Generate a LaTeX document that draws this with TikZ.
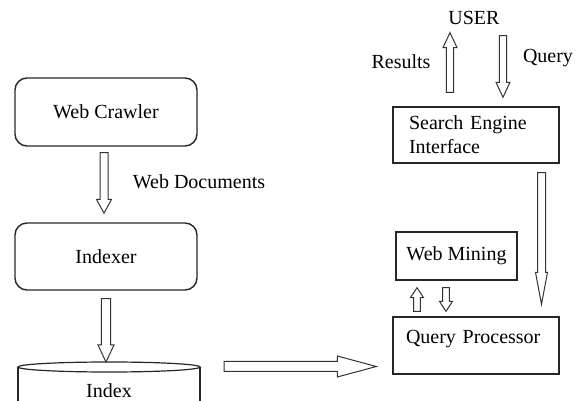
\documentclass[tikz,border=0pt]{standalone}
\usepackage{fontspec}
\setmainfont{Liberation Serif}
\usetikzlibrary{calc}
\tikzset{roundbox/.style={draw=black!85,rounded corners=6pt,line width=0.7pt,minimum width=91pt,minimum height=34pt}}
\tikzset{squarebox/.style={draw=black!85,line width=0.7pt,inner sep=0pt}}
\tikzset{arrowline/.style={draw=black!80,line width=0.5pt,line join=miter}}
% hollow block arrow: shaft half width, head half width, head length (in pt), from, to
\newcommand\blockarrow[5]{%
  \draw[arrowline] let \p1=#4, \p2=#5, \n1={atan2(\y2-\y1,\x2-\x1)}, \n2={veclen(\x2-\x1,\y2-\y1)} in
    [shift={(\p1)},rotate=\n1]
    (0pt,-#1pt) -- ({(\n2-#3)*1pt},-#1pt) -- ({(\n2-#3)*1pt},-#2pt) -- ({\n2*1pt},0pt)
    -- ({(\n2-#3)*1pt},#2pt) -- ({(\n2-#3)*1pt},#1pt) -- (0pt,#1pt) -- cycle;}

\begin{document}
\begin{tikzpicture}[x=0.5pt,y=-0.5pt]
    \useasboundingbox (0,0) rectangle (585,401);

    % left column
    \node[roundbox] (crawler) at (106,112) {Web Crawler};
    \node[roundbox,minimum height=33.5pt] (indexer) at (106,256.5) {Indexer};
    \node (docs) at (199,182) {Web Documents};
    \coordinate (indextop) at (109,362);
    \draw[black!85,line width=0.6pt] ($(indextop)+(0,5)$) ellipse [x radius=45.5pt,y radius=2.5pt];
    \draw[black!85,line width=0.6pt] ($(indextop)+(-91,5)$) -- ($(indextop)+(-91,40)$)
        ($(indextop)+(91,5)$) -- ($(indextop)+(91,40)$);
    \node (index) at (109,391) {Index};

    % right column
    \node[inner sep=0pt] (user) at (474,18) {USER};
    \node (results) at (401,62) {Results};
    \node (query) at (548,58) {Query};
    \node[squarebox,minimum width=83pt,minimum height=28pt,text width=67pt,align=left] (sei) at (476,135) {Search Engine\\Interface};
    \node[squarebox,minimum width=60.5pt,minimum height=24pt] (mining) at (456.5,256) {Web Mining};
    \node[squarebox,minimum width=83pt,minimum height=28.5pt,text width=70pt,align=left,text depth=8.5pt] (qp) at (476,345.5) {Query Processor};

    \blockarrow{2}{3.75}{7}{($(crawler.south)+(-2,6)$)}{($(indexer.north)+(-2,-9)$)}
    \blockarrow{2.3}{4}{8.5}{($(indexer.south)+(0,8)$)}{($(indextop)+(-3,0)$)}
    \blockarrow{2.5}{5.25}{19.5}{($(indextop)+(115,4.5)$)}{($(qp.west)+(-16,21)$)}
    \blockarrow{1.8}{3.5}{7.5}{($(sei.north)+(-26,-14)$)}{($(user.south)+(-24,7.5)$)}
    \blockarrow{1.8}{3.5}{7.5}{($(user.south)+(29,10.5)$)}{($(sei.north)+(27,-9)$)}
    \blockarrow{2}{3}{16}{($(sei.south)+(65.5,9)$)}{($(qp.north)+(65.5,-12)$)}
    \blockarrow{1.7}{3.3}{5}{($(qp.north)+(-59,-5)$)}{($(mining.south)+(-39.5,7)$)}
    \blockarrow{1.7}{3.3}{5}{($(mining.south)+(-10.5,7)$)}{($(qp.north)+(-30,-5)$)}
\end{tikzpicture}
\end{document}
